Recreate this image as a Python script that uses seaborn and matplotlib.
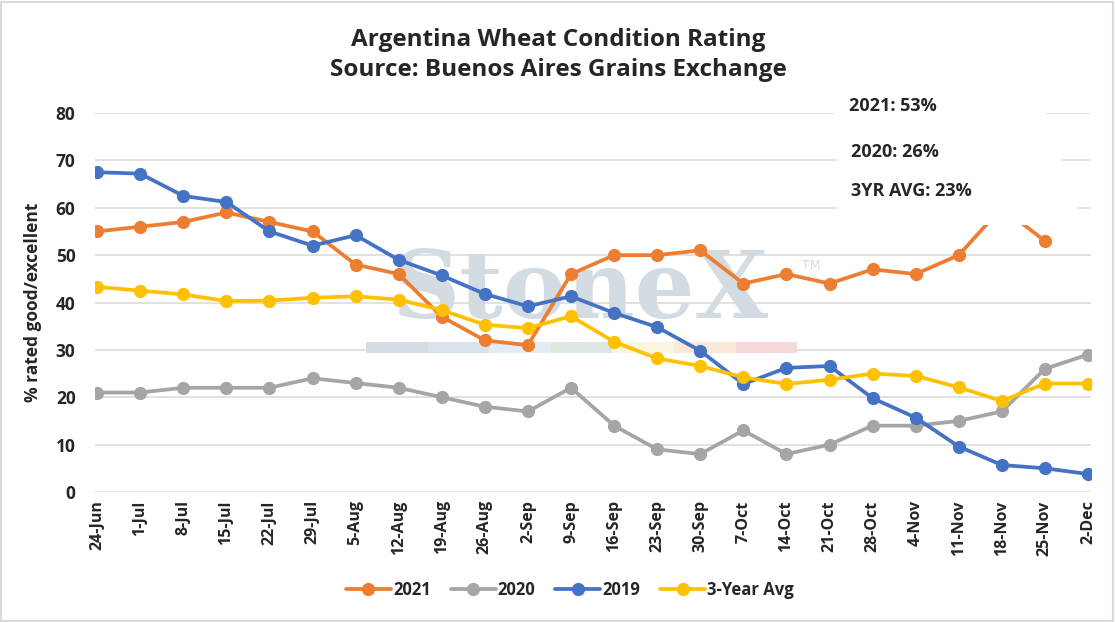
import numpy as np
import pandas as pd
import matplotlib
matplotlib.use("Agg")
import matplotlib.pyplot as plt
from matplotlib.patches import Rectangle
import seaborn as sns

# -----------------------------
# Data
# -----------------------------
weeks = ["24-Jun", "1-Jul", "8-Jul", "15-Jul", "22-Jul", "29-Jul", "5-Aug", "12-Aug",
         "19-Aug", "26-Aug", "2-Sep", "9-Sep", "16-Sep", "23-Sep", "30-Sep", "7-Oct",
         "14-Oct", "21-Oct", "28-Oct", "4-Nov", "11-Nov", "18-Nov", "25-Nov", "2-Dec"]

rating_2021 = [55, 56, 57, 59, 57, 55, 48, 46, 37, 32, 31, 46, 50, 50, 51, 44,
               46, 44, 47, 46, 50, 60, 53, np.nan]
rating_2020 = [21, 21, 22, 22, 22, 24, 23, 22, 20, 18, 17, 22, 14, 9, 8, 13,
               8, 10, 14, 14, 15, 17, 26, 29]
rating_2019 = [67.5, 67.2, 62.5, 61.2, 55, 52, 54.2, 49, 45.7, 41.8, 39.2, 41.3,
               37.8, 34.8, 29.8, 22.8, 26.2, 26.6, 19.8, 15.7, 9.6, 5.7, 5.0, 3.8]
rating_avg = [43.3, 42.5, 41.7, 40.3, 40.4, 41.0, 41.3, 40.6, 38.4, 35.3, 34.6, 37.1,
              31.7, 28.2, 26.6, 24.2, 22.8, 23.7, 25.0, 24.5, 22.1, 19.2, 22.9, 22.9]

series_names = ["2021", "2020", "2019", "3-Year Avg"]
series_values = [rating_2021, rating_2020, rating_2019, rating_avg]
series_colors = ["#ED7D31", "#A5A5A5", "#4472C4", "#FFC000"]

notes = ["2021: 53%", "2020: 26%", "3YR AVG: 23%"]

FONT = ["Open Sans", "DejaVu Sans"]

W, H = 1115, 622


def fx(px):
    return px / W


def fy(py):
    return 1 - py / H


def Main():
    sns.set_theme(style="white")
    plt.rcParams["font.family"] = FONT
    plt.rcParams["font.weight"] = "bold"

    fig = plt.figure(figsize=(W / 100, H / 100), dpi=100)
    ax = fig.add_axes([fx(95), fy(492), fx(1091) - fx(95), fy(113) - fy(492)])

    # chart border
    fig.add_artist(Rectangle((0.001, 0.002), 0.997, 0.995, transform=fig.transFigure,
                             fill=False, edgecolor="#d9d9d9", linewidth=1.5))

    # StoneX watermark, kept inside the axes so the series draw over it
    ax.text(fx(580), fy(292), "StoneX", family="DejaVu Serif", fontsize=68,
            color="#d3dbe3", ha="center", va="center", zorder=0.5,
            fontweight="bold", transform=fig.transFigure, clip_on=False)
    ax.text(fx(802), fy(266), "TM", family="DejaVu Sans", fontsize=9,
            color="#d3dbe3", ha="left", va="center", zorder=0.5, fontweight="normal",
            transform=fig.transFigure, clip_on=False)
    bar_colors = ["#d5dce3", "#d9e3ee", "#e2ecf5", "#dbe8df", "#f9f5df", "#fae8d8", "#f4d8da"]
    for i, c in enumerate(bar_colors):
        ax.add_patch(Rectangle((fx(366 + i * 61.6), fy(353)), fx(61.6), fy(342) - fy(353),
                               transform=fig.transFigure, facecolor=c, edgecolor="none",
                               zorder=0.6, clip_on=False))

    x = np.arange(len(weeks))
    for name, vals, col in zip(series_names, series_values, series_colors):
        df = pd.DataFrame({"week": x, "value": vals})
        sns.lineplot(data=df, x="week", y="value", ax=ax, color=col, label=name,
                     marker="o", markersize=9.5, markeredgewidth=0, linewidth=2.7,
                     zorder=3)

    ax.set_xlim(-0.05, 23.07)
    ax.set_ylim(0, 80)
    ax.set_yticks(range(0, 81, 10))
    ax.set_xticks(x)
    ax.set_xticklabels(weeks, rotation=90, fontsize=11.5, fontweight="bold")
    ax.tick_params(axis="y", labelsize=12.5, pad=14, length=0)
    ax.tick_params(axis="x", pad=6, length=0)
    for lbl in ax.get_yticklabels():
        lbl.set_fontweight("bold")
    ax.grid(axis="y", color="#d9d9d9", linewidth=1.1, zorder=0)
    ax.set_axisbelow(True)
    for s in ax.spines.values():
        s.set_visible(False)
    ax.patch.set_alpha(0)
    ax.set_xlabel("")
    ax.set_ylabel("% rated good/excellent", fontsize=12.5, fontweight="bold", labelpad=10)

    fig.text(fx(558), fy(55), "Argentina Wheat Condition Rating\nSource: Buenos Aires Grains Exchange",
             ha="center", va="center", fontsize=17.5, fontweight="bold", linespacing=1.35)

    # annotation boxes
    boxes = [(835, 82, 1046, 132), (837, 134, 1061, 174), (837, 176, 1077, 225)]
    for x0, y0, x1, y1 in boxes:
        fig.add_artist(Rectangle((fx(x0), fy(y1)), fx(x1 - x0), fy(y0) - fy(y1),
                                 transform=fig.transFigure, facecolor="white",
                                 edgecolor="none", zorder=5))
    note_pos = [(849, 106), (851, 152), (851, 191)]
    for txt, (px, py) in zip(notes, note_pos):
        fig.text(fx(px), fy(py), txt, ha="left", va="center", fontsize=13,
                 fontweight="bold", zorder=6)

    ax.legend(loc="center", bbox_to_anchor=(fx(570), fy(590)), bbox_transform=fig.transFigure,
              ncol=4, frameon=False, handlelength=2.7, handletextpad=0.12,
              columnspacing=1.2, prop={"weight": "bold", "size": 12, "family": FONT})

    fig.savefig("out.png", dpi=100)


if __name__ == "__main__":
    Main()
